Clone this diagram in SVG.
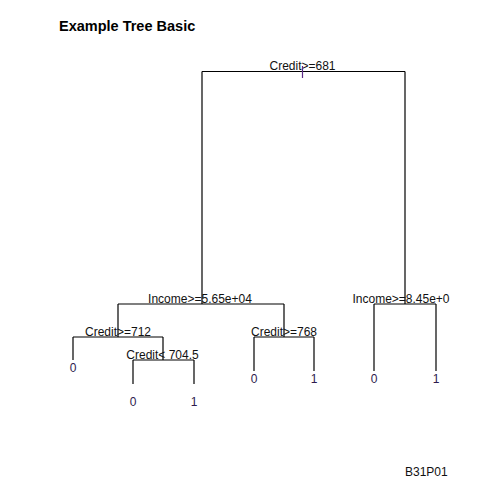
<svg xmlns="http://www.w3.org/2000/svg" width="480" height="480" viewBox="0 0 480 480">
<style>
text{font-family:"Liberation Sans",Arial,sans-serif;font-size:12px;fill:#111}
.title{font-size:14.5px;font-weight:bold;fill:#000}
.leaf{fill:#2e1a4e;text-anchor:middle}
.split{text-anchor:middle}
#connectors line{stroke:#000;stroke-width:1.2;fill:none}
</style>
<rect width="480" height="480" fill="#fff"/>
<text class="title" x="59" y="31">Example Tree Basic</text>
<g id="connectors">
<line x1="202" y1="71.5" x2="405" y2="71.5"/>
<line x1="202" y1="71.5" x2="202" y2="304"/>
<line x1="405" y1="71.5" x2="405" y2="304"/>
<line x1="118" y1="304" x2="284" y2="304"/>
<line x1="118" y1="304" x2="118" y2="337"/>
<line x1="284" y1="304" x2="284" y2="337"/>
<line x1="73" y1="337" x2="163" y2="337"/>
<line x1="73" y1="337" x2="73" y2="360"/>
<line x1="163" y1="337" x2="163" y2="360"/>
<line x1="133" y1="360" x2="194" y2="360"/>
<line x1="133" y1="360" x2="133" y2="384"/>
<line x1="194" y1="360" x2="194" y2="384"/>
<line x1="254" y1="337" x2="314" y2="337"/>
<line x1="254" y1="337" x2="254" y2="371"/>
<line x1="314" y1="337" x2="314" y2="371"/>
<line x1="374" y1="304" x2="436" y2="304"/>
<line x1="374" y1="304" x2="374" y2="371"/>
<line x1="436" y1="304" x2="436" y2="371"/>
</g>
<g id="n1"><text class="split" x="302.5" y="70">Credit&gt;=681</text><line x1="302.5" y1="66" x2="302.5" y2="78" stroke="#5b2a86" stroke-width="1.2"/></g>
<g id="n2"><text class="split" x="200" y="302.5">Income&gt;=5.65e+04</text></g>
<g id="n3"><text class="split" x="401" y="302.5">Income&gt;=8.45e+0</text></g>
<g id="n4"><text class="split" x="118" y="335.5">Credit&gt;=712</text></g>
<g id="n5"><text class="split" x="284" y="335.5">Credit&gt;=768</text></g>
<g id="n6"><text class="split" x="162.5" y="359">Credit&lt; 704.5</text></g>
<g id="l1"><text class="leaf" x="73" y="372">0</text></g>
<g id="l2"><text class="leaf" x="133" y="406">0</text></g>
<g id="l3"><text class="leaf" x="194" y="406">1</text></g>
<g id="l4"><text class="leaf" x="254" y="383">0</text></g>
<g id="l5"><text class="leaf" x="314" y="383">1</text></g>
<g id="l6"><text class="leaf" x="374" y="383">0</text></g>
<g id="l7"><text class="leaf" x="436" y="383">1</text></g>
<text x="405" y="476">B31P01</text>
</svg>
